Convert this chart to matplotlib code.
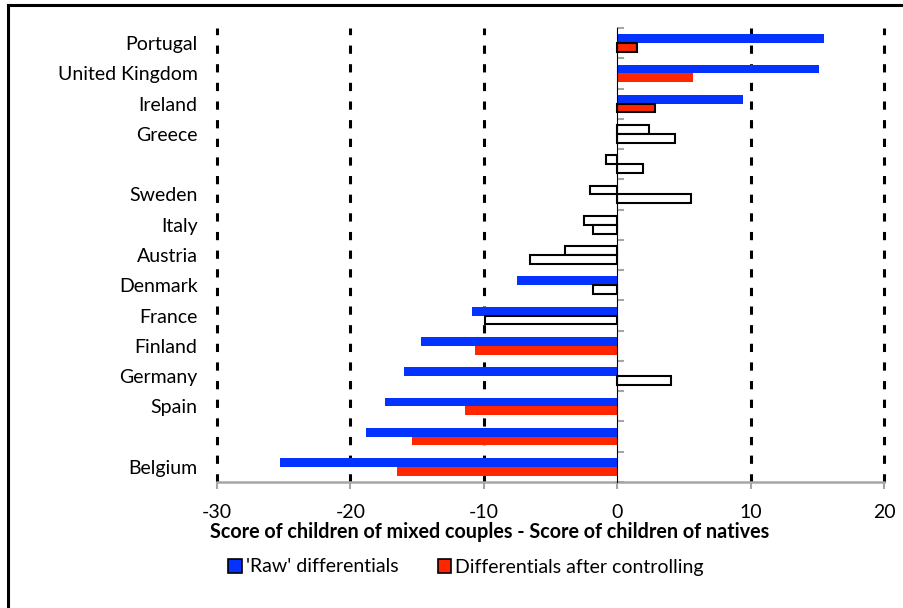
import matplotlib.pyplot as plt
from matplotlib.lines import Line2D
from matplotlib.patches import Patch
import numpy as np

# data (top to bottom)
countries = ['Portugal', 'United Kingdom', 'Ireland', 'Greece', '', 'Sweden',
             'Italy', 'Austria', 'Denmark', 'France', 'Finland', 'Germany',
             'Spain', '', 'Belgium']
raw_diff = [15.5, 15.1, 9.4, 2.35, -0.85, -2.05, -2.5, -3.95, -7.5, -10.9,
            -14.7, -16.0, -17.4, -18.8, -25.3]
ctrl_diff = [1.5, 5.7, 2.8, 4.3, 1.9, 5.5, -1.85, -6.5, -1.85, -9.9,
             -10.65, 4.0, -11.4, -15.4, -16.5]
# 2 = significant, 1 = weakly significant, 0 = not significant
raw_sig = [2, 2, 2, 0, 0, 0, 0, 0, 2, 2, 2, 2, 2, 2, 2]
ctrl_sig = [1, 2, 1, 0, 0, 0, 0, 0, 0, 0, 2, 0, 2, 2, 2]

x_ticks = [-30, -20, -10, 0, 10, 20]
grid_at = [-30, -20, -10, 10, 20]
xlabel = 'Score of children of mixed couples - Score of children of natives'
legend_labels = ["'Raw' differentials", 'Differentials after controlling']

BLUE = '#0433FF'
RED = '#FF2600'
GRAY = '#A6A6A6'

plt.rcParams['font.family'] = ['Lato', 'DejaVu Sans']
plt.rcParams['font.size'] = 14

W, H = 904, 608
fig = plt.figure(figsize=(W / 100, H / 100), dpi=100)
ax = fig.add_axes([217 / W, 1 - 482 / H, (884 - 217) / W, (482 - 28) / H])

n = len(countries)
y = np.arange(n)
bh = 0.29


def bar_style(color, sig):
    if sig == 2:
        return dict(color=color, edgecolor='none')
    if sig == 1:
        return dict(color=color, edgecolor='black', linewidth=1.5)
    return dict(color='white', edgecolor='black', linewidth=1.5)


for i in range(n):
    ax.barh(y[i] - bh / 2, raw_diff[i], height=bh, zorder=3,
            **bar_style(BLUE, raw_sig[i]))
    ax.barh(y[i] + bh / 2, ctrl_diff[i], height=bh, zorder=3,
            **bar_style(RED, ctrl_sig[i]))

# dashed vertical gridlines
for g in grid_at:
    ax.axvline(g, color='black', lw=2.2, dashes=(2.7, 3.4), zorder=1,
               clip_on=False)

ax.set_xlim(-30, 20)
ax.set_ylim(n - 0.5, -0.5)
ax.set_xticks(x_ticks)
ax.set_xticklabels([str(t) for t in x_ticks])
ax.set_yticks(y)
ax.set_yticklabels(countries)
ax.tick_params(axis='y', length=0, pad=14)
ax.tick_params(axis='x', length=5, width=1.5, color=GRAY, pad=11)

for side in ['top', 'right', 'left']:
    ax.spines[side].set_visible(False)
ax.spines['bottom'].set_color(GRAY)
ax.spines['bottom'].set_linewidth(1.8)

# vertical axis at zero with category-boundary ticks
yax = ax.secondary_yaxis(0.6)
yax.set_yticks(np.arange(n + 1) - 0.5)
yax.set_yticklabels([])
yax.tick_params(axis='y', length=5, width=1.5, color=GRAY)
yax.spines['left'].set_color(GRAY)
yax.spines['left'].set_linewidth(1.8)
yax.set_zorder(4)

fig.text(490 / W, 1 - 532 / H, xlabel, ha='center', va='center',
         fontweight='bold', fontsize=14.2)

handles = [Patch(facecolor=BLUE, edgecolor='black', linewidth=1.2),
           Patch(facecolor=RED, edgecolor='black', linewidth=1.2)]
fig.legend(handles, legend_labels, loc='center', ncol=2,
           bbox_to_anchor=(466 / W, 1 - 567 / H), frameon=False,
           handlelength=0.7, handleheight=0.7, handletextpad=0.2,
           columnspacing=2.0, fontsize=14)

# outer chart frame (partly cut by the image edge)
fig.add_artist(Line2D([8 / W, 1.01], [1 - 5 / H, 1 - 5 / H],
                      transform=fig.transFigure, color='black', lw=2.2))
fig.add_artist(Line2D([8 / W, 8 / W], [1 - 5 / H, -0.01],
                      transform=fig.transFigure, color='black', lw=2.2))

fig.savefig('out.png', dpi=100)
